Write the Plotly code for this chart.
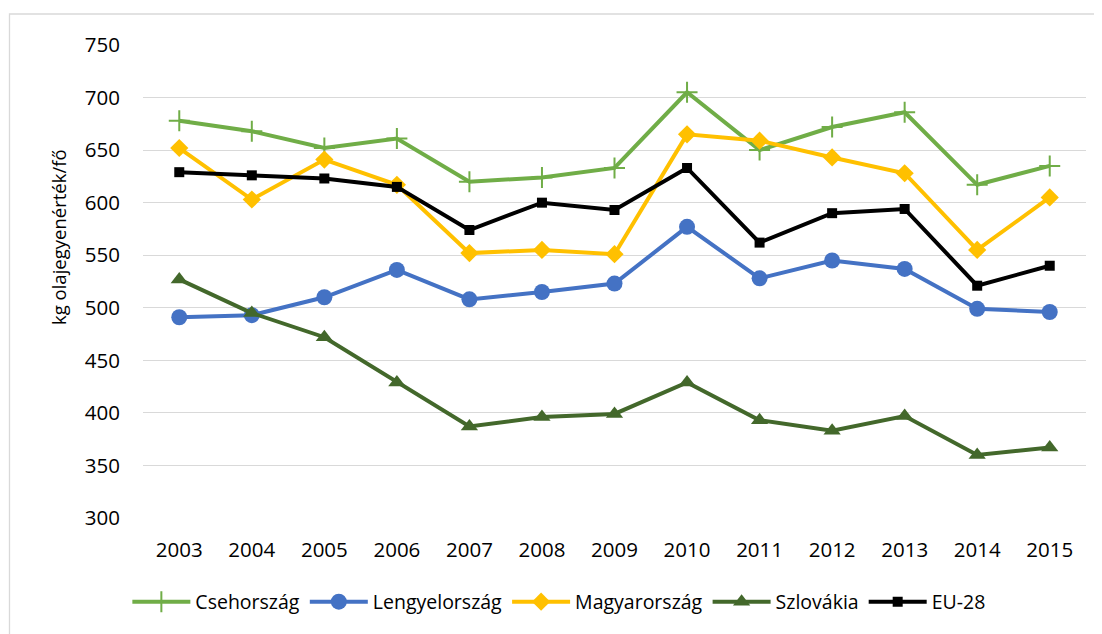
import plotly.graph_objects as go

years = ["2003", "2004", "2005", "2006", "2007", "2008", "2009", "2010", "2011", "2012", "2013", "2014", "2015"]
cseh = [678, 668, 652, 661, 620, 624, 633, 705, 650, 672, 686, 617, 635]
lengyel = [491, 493, 510, 536, 508, 515, 523, 577, 528, 545, 537, 499, 496]
magyar = [652, 603, 641, 617, 552, 555, 551, 665, 659, 643, 628, 555, 605]
szlovakia = [527, 495, 472, 429, 387, 396, 399, 429, 393, 383, 397, 360, 367]
eu28 = [629, 626, 623, 615, 574, 600, 593, 633, 562, 590, 594, 521, 540]

series = [
    ("Csehország", cseh, "#70AD47", dict(symbol="cross-thin", size=15, line=dict(width=2, color="#70AD47"))),
    ("Lengyelország", lengyel, "#4472C4", dict(symbol="circle", size=16)),
    ("Magyarország", magyar, "#FFC000", dict(symbol="diamond", size=14)),
    ("Szlovákia", szlovakia, "#43682B", dict(symbol="triangle-up", size=15)),
    ("EU-28", eu28, "#000000", dict(symbol="square", size=10)),
]

fig = go.Figure()
for name, vals, col, mk in series:
    m = dict(color=col)
    m.update(mk)
    fig.add_trace(go.Scatter(x=years, y=vals, name=name, mode="lines+markers",
                             line=dict(color=col, width=4), marker=m))

# page body has an 8px margin, so the figure is 8px smaller and shifted accordingly
W, H = 1094, 626
L, R, T, B = 135, 16, 37, 116
pw, ph = W - L - R, H - T - B

font = "Open Sans, Liberation Sans, sans-serif"
fig.update_layout(
    width=W, height=H,
    margin=dict(l=L, r=R, t=T, b=B, autoexpand=False),
    paper_bgcolor="white", plot_bgcolor="white",
    font=dict(family=font, size=19, color="#000000"),
    showlegend=True,
    legend=dict(orientation="h", x=0.441, xanchor="center", y=-0.1776, yanchor="middle",
                font=dict(size=19.5), itemwidth=58, tracegroupgap=0),
    xaxis=dict(type="category", range=[-0.5, len(years) - 0.5], showgrid=False, showline=False,
               zeroline=False, automargin=False,
               ticks="", ticklabelstandoff=17, tickfont=dict(size=20.5)),
    yaxis=dict(range=[300, 750], dtick=50, tick0=300, showgrid=True, gridcolor="#D9D9D9",
               gridwidth=1.3, zeroline=False, showline=False, ticks="", automargin=False,
               ticklabelstandoff=22, tickfont=dict(size=20.5)),
    annotations=[dict(text="kg olajegyenérték/fő", xref="paper", yref="paper",
                      x=(50 - L) / pw, y=(T + ph - 229) / ph, xanchor="center", yanchor="middle",
                      textangle=-90, showarrow=False, font=dict(size=18.5))],
    shapes=[dict(type="rect", xref="paper", yref="paper",
                 x0=(1.5 - L) / pw, x1=(W + 10 - L) / pw,
                 y0=(T + ph - (H + 10)) / ph, y1=(T + ph - 6) / ph,
                 line=dict(color="#D9D9D9", width=1.3), fillcolor="rgba(0,0,0,0)", layer="below")],
)

fig.write_html("out.html")
